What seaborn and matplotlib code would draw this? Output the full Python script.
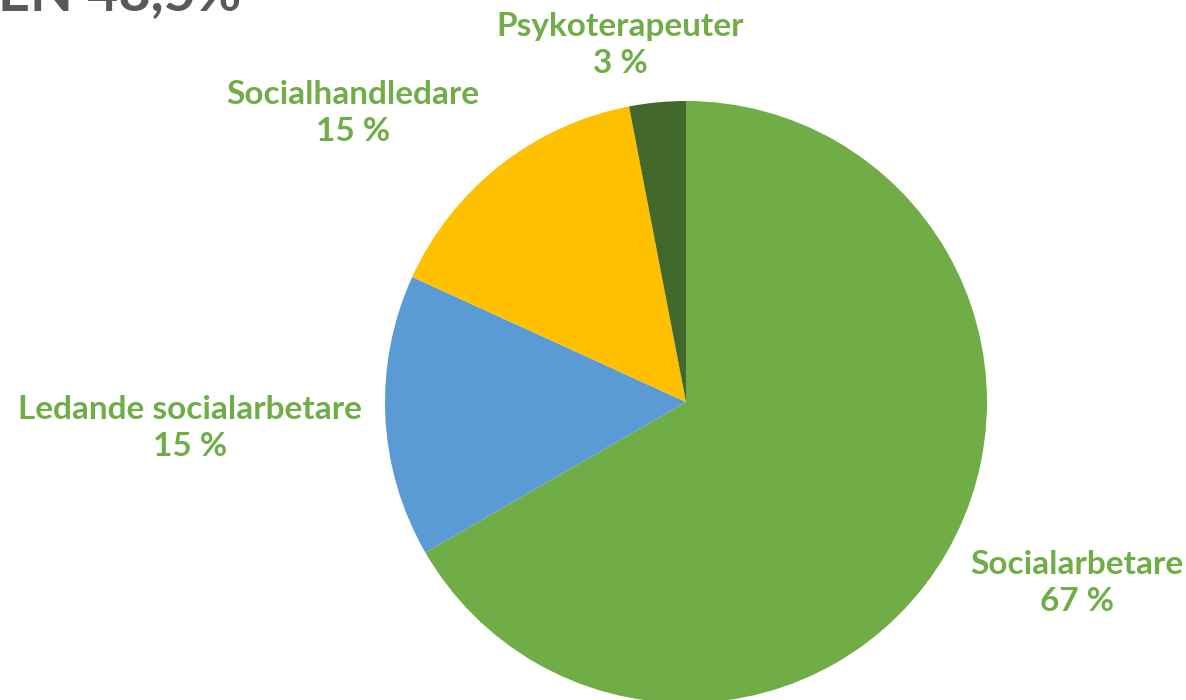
import matplotlib
matplotlib.use("Agg")
import matplotlib.pyplot as plt
import seaborn as sns

categories = ["Socialarbetare", "Ledande socialarbetare", "Socialhandledare", "Psykoterapeuter"]
counts = [22, 5, 5, 1]
colors = ["#70AD47", "#5B9BD5", "#FFC000", "#43682B"]
title_text = "EN 48,5%"

sns.set_theme(style="white")
plt.rcParams['font.family'] = ['Lato', 'DejaVu Sans']

W, H = 1186, 700
fig = plt.figure(figsize=(W / 100, H / 100), dpi=100)
cx, cy, r = 686, 402, 301
ax = fig.add_axes([(cx - r) / W, (H - cy - r) / H, 2 * r / W, 2 * r / H])
ax.pie(counts, colors=colors, startangle=90, counterclock=False,
       wedgeprops=dict(linewidth=0), radius=1)
ax.set_xlim(-1, 1)
ax.set_ylim(-1, 1)
ax.set_aspect("equal")
ax.axis("off")

total = sum(counts)
# label centers in pixel coordinates (layout)
label_px = [(1077, 583), (190, 428), (353, 113), (620, 45)]
for cat, val, (px, py) in zip(categories, counts, label_px):
    x = (px - cx) / r
    y = (cy - py) / r
    pct = round(100 * val / total)
    ax.text(x, y, f"{cat}\n{pct} %", ha="center", va="center", color="#70AD47",
            fontsize=24, fontweight="bold", linespacing=1.3, clip_on=False)

fig.text(-0.002, 1 - 10 / H, title_text, ha="left", va="baseline", color="#595959",
         fontsize=40, fontweight="bold")
fig.savefig("out.png", dpi=100)
